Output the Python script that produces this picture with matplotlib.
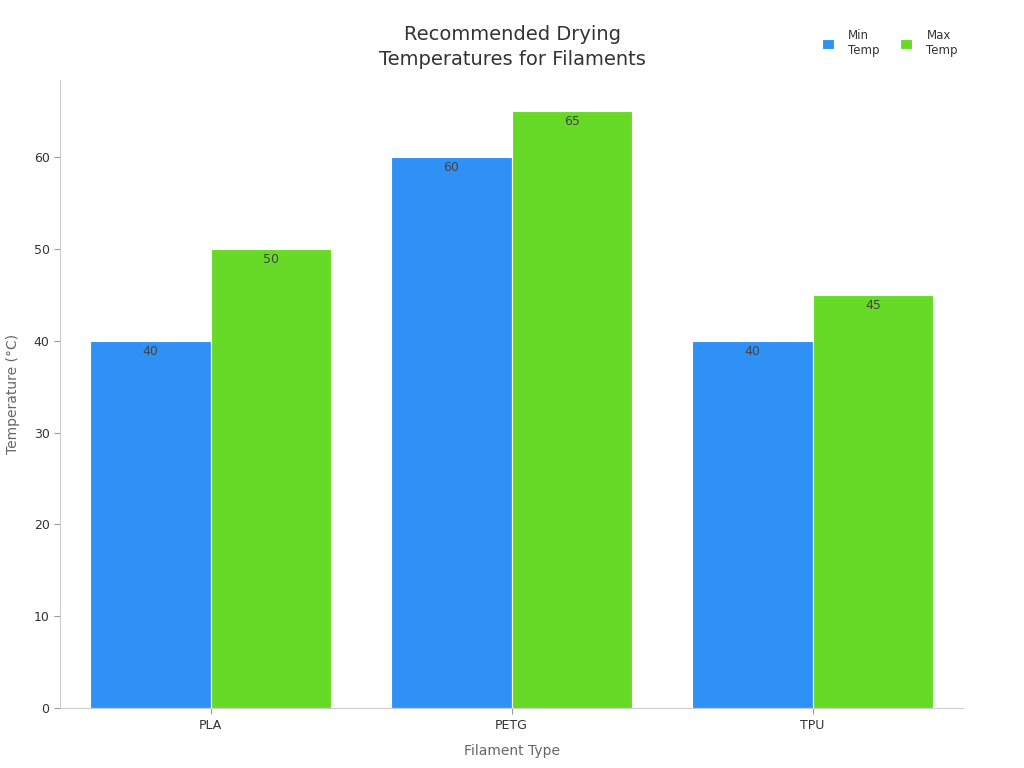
import numpy as np
import matplotlib.pyplot as plt

filaments = ['PLA', 'PETG', 'TPU']
min_temp = [40, 60, 40]
max_temp = [50, 65, 45]

fig = plt.figure(figsize=(10.24, 7.68), dpi=100)
ax = fig.add_axes([0.0586, 0.078, 0.882, 0.818])

x = np.arange(len(filaments))
w = 0.4
b1 = ax.bar(x - w / 2, min_temp, w, color='#2f91f5', edgecolor='white', linewidth=0.8, label='Min\nTemp')
b2 = ax.bar(x + w / 2, max_temp, w, color='#66da26', edgecolor='white', linewidth=0.8, label='Max\nTemp')

for bars in (b1, b2):
    for r in bars:
        ax.annotate(f'{r.get_height():.0f}', (r.get_x() + r.get_width() / 2, r.get_height()),
                    xytext=(0, -7.5), textcoords='offset points', ha='center', va='center',
                    fontsize=9, color='#444444')

ax.set_xlim(-0.5, 2.5)
ax.set_ylim(0, 68.4)
ax.set_xticks(x)
ax.set_xticklabels(filaments)
ax.set_yticks(range(0, 61, 10))
ax.tick_params(labelsize=9, colors='#333333')
ax.tick_params(axis='both', color='#999999', length=4)

for s in ['top', 'right']:
    ax.spines[s].set_visible(False)
for s in ['left', 'bottom']:
    ax.spines[s].set_color('#cccccc')

ax.set_xlabel('Filament Type', fontsize=10, color='#666666', labelpad=9)
ax.set_ylabel('Temperature (°C)', fontsize=10, color='#666666', labelpad=10)
fig.text(0.5, 0.939, 'Recommended Drying\nTemperatures for Filaments', ha='center', va='center',
         fontsize=14, color='#333333', linespacing=1.4)

leg = fig.legend(loc='center', bbox_to_anchor=(0.869, 0.944), ncol=2, frameon=False, fontsize=8.5,
                 handlelength=1.0, handleheight=1.0, handletextpad=1.2, columnspacing=1.8)
for t in leg.get_texts():
    t.set_color('#333333')
    t.set_multialignment('left')

fig.savefig('out.png', dpi=100)
